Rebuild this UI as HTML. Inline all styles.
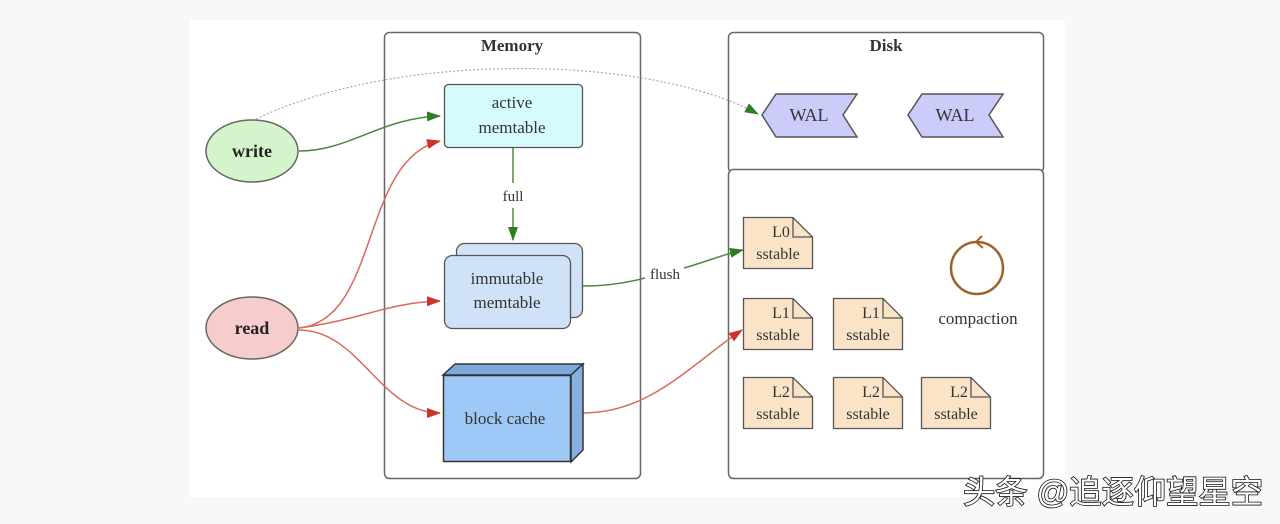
<!DOCTYPE html>
<html><head><meta charset="utf-8"><style>
html,body{margin:0;padding:0;width:1280px;height:524px;overflow:hidden;background:#f6f8fa}
svg{position:absolute;left:0;top:0}
</style></head><body>
<svg width="1280" height="524" viewBox="0 0 1280 524" xmlns="http://www.w3.org/2000/svg" font-family="Liberation Serif, serif">
<defs>
<marker id="gw" markerWidth="14" markerHeight="10" refX="13" refY="5" orient="auto" markerUnits="userSpaceOnUse"><path d="M0,0 L14,5 L0,10 z" fill="#2e7d1e"/></marker>
<marker id="rw" markerWidth="14" markerHeight="10" refX="13" refY="5" orient="auto" markerUnits="userSpaceOnUse"><path d="M0,0 L14,5 L0,10 z" fill="#d0312a"/></marker>
</defs>
<rect x="190" y="20" width="875" height="477" fill="#fff"/>
<rect x="384.5" y="32.5" width="256" height="446" rx="5" fill="none" stroke="#666" stroke-width="1.5"/>
<text x="512" y="51" text-anchor="middle" font-size="17" font-weight="bold" fill="#333">Memory</text>
<rect x="728.5" y="32.5" width="315" height="140" rx="5" fill="none" stroke="#666" stroke-width="1.5"/>
<text x="886" y="51" text-anchor="middle" font-size="17" font-weight="bold" fill="#333">Disk</text>
<rect x="728.5" y="169.5" width="315" height="309" rx="5" fill="#fff" stroke="#666" stroke-width="1.5"/>
<path d="M256,119 C400,50 650,55 758,114" fill="none" stroke="#aaa" stroke-width="1.2" stroke-dasharray="2,2" marker-end="url(#gw)"/>
<path d="M299,151 C350,151 380,118 440,116" fill="none" stroke="#4a8a3a" stroke-width="1.5" marker-end="url(#gw)"/>
<path d="M299,328 C380,320 360,160 440,141" fill="none" stroke="#d86a5e" stroke-width="1.5" marker-end="url(#rw)"/>
<path d="M299,328 C360,320 390,302 440,301" fill="none" stroke="#d86a5e" stroke-width="1.5" marker-end="url(#rw)"/>
<path d="M299,330 C360,330 380,413 440,413" fill="none" stroke="#d86a5e" stroke-width="1.5" marker-end="url(#rw)"/>
<path d="M513,148 L513,183" stroke="#4a8a3a" stroke-width="1.5"/>
<text x="513" y="201" text-anchor="middle" font-size="15" fill="#333">full</text>
<path d="M513,208 L513,240" stroke="#4a8a3a" stroke-width="1.5" marker-end="url(#gw)"/>
<path d="M583,286 C610,286 630,282 645,278" fill="none" stroke="#4a8a3a" stroke-width="1.5"/>
<text x="665" y="279" text-anchor="middle" font-size="15" fill="#333">flush</text>
<path d="M684,268 C705,262 725,254 743,250" fill="none" stroke="#4a8a3a" stroke-width="1.5" marker-end="url(#gw)"/>
<path d="M583,413 C650,413 690,365 742,330" fill="none" stroke="#d86a5e" stroke-width="1.5" marker-end="url(#rw)"/>
<ellipse cx="252" cy="151" rx="46" ry="31" fill="#d4f5cc" stroke="#666" stroke-width="1.5"/>
<text x="252" y="157" text-anchor="middle" font-size="18" font-weight="bold" fill="#222">write</text>
<ellipse cx="252" cy="328" rx="46" ry="31" fill="#f6cccc" stroke="#666" stroke-width="1.5"/>
<text x="252" y="334" text-anchor="middle" font-size="18" font-weight="bold" fill="#222">read</text>
<rect x="444.5" y="84.5" width="138" height="63" rx="4" fill="#d6fbfd" stroke="#555" stroke-width="1.3"/>
<text x="512" y="108" text-anchor="middle" font-size="17" fill="#333">active</text>
<text x="512" y="133" text-anchor="middle" font-size="17" fill="#333">memtable</text>
<rect x="456.5" y="243.5" width="126" height="74" rx="8" fill="#cfe2f8" stroke="#555" stroke-width="1.3"/>
<rect x="444.5" y="255.5" width="126" height="73" rx="8" fill="#cfe2f8" stroke="#555" stroke-width="1.3"/>
<text x="507" y="284" text-anchor="middle" font-size="17" fill="#333">immutable</text>
<text x="507" y="308" text-anchor="middle" font-size="17" fill="#333">memtable</text>
<polygon points="443,375 455,364 583,364 571,375" fill="#7ea9dc" stroke="#333" stroke-width="1.5"/>
<polygon points="571,375 583,364 583,450 571,462" fill="#86b0e0" stroke="#333" stroke-width="1.5"/>
<rect x="443.5" y="375.5" width="127" height="86" fill="#9ec8f5" stroke="#333" stroke-width="1.5"/>
<text x="505" y="424" text-anchor="middle" font-size="17" fill="#333">block cache</text>
<polygon points="762,115 776,94 857,94 843,115 857,137 776,137" fill="#ccccfb" stroke="#555" stroke-width="1.5"/>
<text x="809" y="121" text-anchor="middle" font-size="18" fill="#333">WAL</text>
<polygon points="908,115 922,94 1003,94 989,115 1003,137 922,137" fill="#ccccfb" stroke="#555" stroke-width="1.5"/>
<text x="955" y="121" text-anchor="middle" font-size="18" fill="#333">WAL</text>
<g font-size="16" fill="#333" text-anchor="middle">
<g transform="translate(743,217)"><path d="M0.5,0.5 H50 L69.5,20 V51.5 H0.5 Z" fill="#fbe3c8" stroke="#555" stroke-width="1.3"/><path d="M50,0.5 V20 H69.5" fill="none" stroke="#555" stroke-width="1.3"/><text x="38" y="20">L0</text><text x="35" y="42">sstable</text></g>
<g transform="translate(743,298)"><path d="M0.5,0.5 H50 L69.5,20 V51.5 H0.5 Z" fill="#fbe3c8" stroke="#555" stroke-width="1.3"/><path d="M50,0.5 V20 H69.5" fill="none" stroke="#555" stroke-width="1.3"/><text x="38" y="20">L1</text><text x="35" y="42">sstable</text></g>
<g transform="translate(833,298)"><path d="M0.5,0.5 H50 L69.5,20 V51.5 H0.5 Z" fill="#fbe3c8" stroke="#555" stroke-width="1.3"/><path d="M50,0.5 V20 H69.5" fill="none" stroke="#555" stroke-width="1.3"/><text x="38" y="20">L1</text><text x="35" y="42">sstable</text></g>
<g transform="translate(743,377)"><path d="M0.5,0.5 H50 L69.5,20 V51.5 H0.5 Z" fill="#fbe3c8" stroke="#555" stroke-width="1.3"/><path d="M50,0.5 V20 H69.5" fill="none" stroke="#555" stroke-width="1.3"/><text x="38" y="20">L2</text><text x="35" y="42">sstable</text></g>
<g transform="translate(833,377)"><path d="M0.5,0.5 H50 L69.5,20 V51.5 H0.5 Z" fill="#fbe3c8" stroke="#555" stroke-width="1.3"/><path d="M50,0.5 V20 H69.5" fill="none" stroke="#555" stroke-width="1.3"/><text x="38" y="20">L2</text><text x="35" y="42">sstable</text></g>
<g transform="translate(921,377)"><path d="M0.5,0.5 H50 L69.5,20 V51.5 H0.5 Z" fill="#fbe3c8" stroke="#555" stroke-width="1.3"/><path d="M50,0.5 V20 H69.5" fill="none" stroke="#555" stroke-width="1.3"/><text x="38" y="20">L2</text><text x="35" y="42">sstable</text></g>
</g>
<circle cx="977" cy="268" r="26" fill="none" stroke="#a0602a" stroke-width="2.5"/>
<path d="M982,236 L976,242 L983,248" fill="none" stroke="#a0602a" stroke-width="2"/>
<text x="978" y="324" text-anchor="middle" font-size="17" fill="#333">compaction</text>
<text x="963" y="503" font-family="Liberation Sans, Noto Sans CJK SC, sans-serif" font-size="32" fill="#fff" stroke="#111" stroke-width="1.6" paint-order="stroke" textLength="300" lengthAdjust="spacingAndGlyphs">头条 @追逐仰望星空</text>
</svg>
</body></html>
